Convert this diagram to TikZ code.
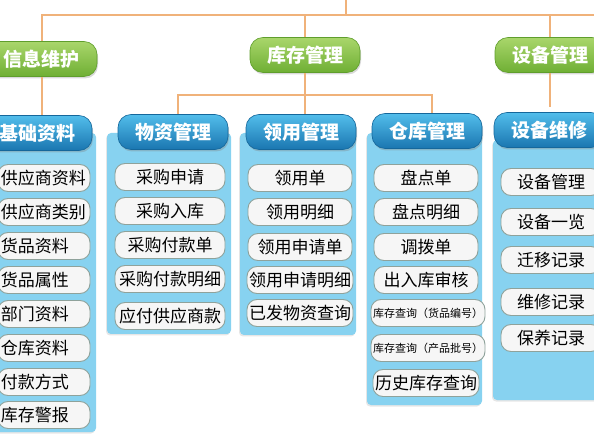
\documentclass[tikz,border=0pt]{standalone}
\usepackage{fontspec}
\newfontfamily\cjk{Noto Sans CJK SC}
\usepackage{tikz}
\usetikzlibrary{shadows}
\usepackage{xcolor}
\definecolor{linkorange}{HTML}{F0B27A}
\definecolor{greentop}{HTML}{A9D66B}
\definecolor{greenbot}{HTML}{6FAF34}
\definecolor{greenline}{HTML}{5F9E2C}
\definecolor{bluetop}{HTML}{52BDEB}
\definecolor{bluebot}{HTML}{1A76B0}
\definecolor{blueline}{HTML}{15679B}
\definecolor{panelblue}{HTML}{87D2F0}
\definecolor{itemwhite}{HTML}{F6F6F6}
\definecolor{itemgray}{HTML}{8FA29B}

\begin{document}
\begin{tikzpicture}[x=1pt, y=-1pt,
    link/.style={draw=linkorange, line width=1.2pt},
    greenhead/.style={rectangle, rounded corners=13pt, draw=greenline, line width=0.6pt,
        top color=greentop, bottom color=greenbot, minimum width=110pt, minimum height=35pt,
        text=white, font=\cjk\bfseries\fontsize{19}{19}\selectfont,
        drop shadow={opacity=0.3, shadow xshift=1pt, shadow yshift=-2pt}},
    bluehead/.style={rectangle, rounded corners=13pt, draw=blueline, line width=0.6pt,
        top color=bluetop, bottom color=bluebot, minimum width=110pt, minimum height=35pt,
        text=white, font=\cjk\bfseries\fontsize{19}{19}\selectfont,
        drop shadow={opacity=0.35, shadow xshift=1pt, shadow yshift=-2pt}},
    panel/.style={fill=panelblue, rounded corners=4pt,
        drop shadow={opacity=0.2, shadow xshift=-1pt, shadow yshift=-1.5pt}},
    item/.style={rectangle, draw=itemgray, line width=0.9pt, fill=itemwhite, rounded corners=10pt,
        minimum height=27pt, inner sep=2pt, font=\cjk\fontsize{17}{17}\selectfont},
    smallitem/.style={item, font=\cjk\fontsize{11}{11}\selectfont}]
    \useasboundingbox (0,0) rectangle (594,435);

    % 背景面板
    \fill[panel] (-5,133) rectangle (96,432);
    \fill[panel] (107,133) rectangle (231,334);
    \fill[panel] (240,133) rectangle (356,335);
    \fill[panel] (367,133) rectangle (482,405);
    \fill[panel] (493,140) rectangle (600,400);

    % 第一层：绿色模块
    \coordinate (top) at (346,0);
    \coordinate (bus) at (346,15);
    \coordinate (busend) at (600,15);
    \node[greenhead] (xinxi) at (42,59) {信息维护};
    \node[greenhead] (kucun) at (305,55) {库存管理};
    \node[greenhead] (shebei) at (550,55) {设备管理};

    % 第二层：蓝色模块
    \node[bluehead] (jichu) at (37,133) {基础资料};
    \node[bluehead] (wuzi) at (173,132) {物资管理};
    \node[bluehead] (lingyong) at (301,132) {领用管理};
    \node[bluehead] (cangku) at (427,131) {仓库管理};
    \node[bluehead] (weixiu) at (549,130) {设备维修};

    % 连线
    \draw[link] (top) -- (bus);
    \draw[link] (xinxi.north) |- (busend);
    \draw[link] (kucun.north) -- (kucun.north |- bus);
    \draw[link] (shebei.north) -- (shebei.north |- bus);
    \draw[link] (xinxi.south) -- (xinxi.south |- jichu.north);
    \draw[link] (kucun.south) -- (kucun.south |- lingyong.north);
    \coordinate (fork) at (304,95);
    \draw[link] ([xshift=5pt]wuzi.north) |- (fork) -| ([xshift=5pt]cangku.north);
    \draw[link, shorten >=5pt] (shebei.south) -- (shebei.south |- weixiu.north);

    % 基础资料
    \begin{scope}[every node/.append style={item, text width=86pt, align=left, inner xsep=3pt}]
        \node (jc1) at (44,178) {供应商资料};
        \node (jc2) at (44,212) {供应商类别};
        \node (jc3) at (44,246) {货品资料};
        \node (jc4) at (44,280) {货品属性};
        \node (jc5) at (44,314) {部门资料};
        \node (jc6) at (44,348) {仓库资料};
        \node (jc7) at (44,382) {付款方式};
        \node (jc8) at (44,415) {库存警报};
    \end{scope}

    % 物资管理
    \begin{scope}[every node/.append style={item, minimum width=110pt}]
        \node (wz1) at (170,177) {采购申请};
        \node (wz2) at (170,211) {采购入库};
        \node (wz3) at (170,245) {采购付款单};
        \node (wz4) at (170,279) {采购付款明细};
        \node (wz5) at (170,316) {应付供应商款};
    \end{scope}

    % 领用管理
    \begin{scope}[every node/.append style={item, minimum width=104pt}]
        \node (ly1) at (300,178) {领用单};
        \node (ly2) at (300,212) {领用明细};
        \node (ly3) at (300,247) {领用申请单};
        \node (ly4) at (300,280) {领用申请明细};
        \node (ly5) at (300,313) {已发物资查询};
    \end{scope}

    % 仓库管理
    \begin{scope}[every node/.append style={item, minimum width=104pt}]
        \node (ck1) at (426,178) {盘点单};
        \node (ck2) at (426,212) {盘点明细};
        \node (ck3) at (426,247) {调拨单};
        \node (ck4) at (426,280) {出入库审核};
        \node[smallitem, minimum width=104pt] (ck5) at (428,313) {库存查询（货品编号）};
        \node[smallitem, minimum width=104pt] (ck6) at (428,348) {库存查询（产品批号）};
        \node (ck7) at (426,383) {历史库存查询};
    \end{scope}

    % 设备维修
    \begin{scope}[every node/.append style={item, minimum width=100pt}]
        \node (wx1) at (551,182) {设备管理};
        \node (wx2) at (551,222) {设备一览};
        \node (wx3) at (551,260) {迁移记录};
        \node (wx4) at (551,302) {维修记录};
        \node (wx5) at (551,338) {保养记录};
    \end{scope}
\end{tikzpicture}
\end{document}
